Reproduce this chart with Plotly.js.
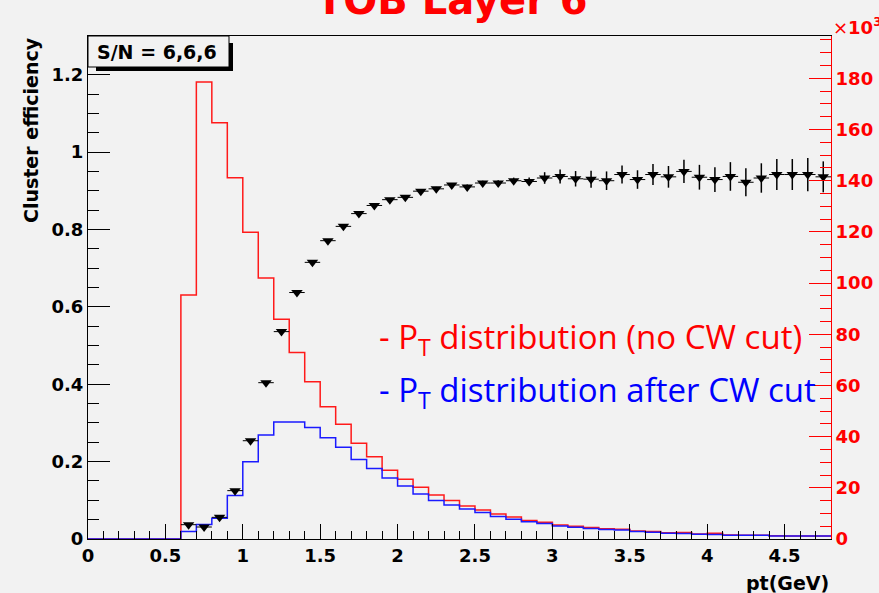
<!DOCTYPE html>
<html>
<head>
<meta charset="utf-8">
<script src="https://cdn.plot.ly/plotly-3.0.1.min.js"></script>
<style>
  html, body { margin: 0; padding: 0; background: #f2f2f2; }
  #chart { width: 879px; height: 593px; }
</style>
</head>
<body>
<div id="chart"></div>
<script>
// ---------------- data ----------------
// histogram bin low edges (GeV), bin width 0.1
const ptLow = [0.0,0.1,0.2,0.3,0.4,0.5,0.6,0.7,0.8,0.9,1.0,1.1,1.2,1.3,1.4,1.5,1.6,1.7,1.8,1.9,
               2.0,2.1,2.2,2.3,2.4,2.5,2.6,2.7,2.8,2.9,3.0,3.1,3.2,3.3,3.4,3.5,3.6,3.7,3.8,3.9,
               4.0,4.1,4.2,4.3,4.4,4.5,4.6,4.7];
const ptHigh = 4.8;

// P_T distribution (no CW cut), in units of 10^3 entries
const redCounts = [0,0,0,0,0,0,95.3,178.5,162.6,141.1,119.8,102.0,85.8,72.9,61.4,51.7,44.8,37.4,32.1,26.9,
                   23.3,20.2,17.2,15.0,12.9,11.3,9.8,8.6,7.2,6.5,5.5,5.0,4.5,4.0,3.8,3.1,2.9,2.4,2.5,2.0,
                   2.2,1.6,1.5,1.5,1.3,1.2,1.2,1.2];

// P_T distribution after CW cut, in units of 10^3 entries
const blueCounts = [0,0,0,0,0,0,2.9,5.7,8.1,17.0,30.2,40.6,45.7,45.7,43.6,39.6,35.8,31.1,27.5,23.8,
                    20.7,17.6,15.0,13.3,11.7,10.4,8.8,7.7,6.7,6.1,5.1,4.6,4.1,3.7,3.5,2.9,2.6,2.2,2.1,1.9,
                    1.8,1.5,1.5,1.5,1.2,1.2,1.2,1.2];

// Cluster efficiency points (bin centres)
const effX = [0.65,0.75,0.85,0.95,1.05,1.15,1.25,1.35,1.45,1.55,1.65,1.75,1.85,1.95,2.05,2.15,2.25,2.35,2.45,2.55,
              2.65,2.75,2.85,2.95,3.05,3.15,3.25,3.35,3.45,3.55,3.65,3.75,3.85,3.95,4.05,4.15,4.25,4.35,4.45,4.55,
              4.65,4.75];
const effY = [0.037,0.031,0.056,0.125,0.254,0.404,0.536,0.637,0.715,0.771,0.808,0.841,0.862,0.877,0.883,0.899,0.905,0.915,0.910,0.920,
              0.920,0.926,0.924,0.933,0.937,0.931,0.930,0.926,0.942,0.929,0.942,0.936,0.950,0.935,0.929,0.937,0.922,0.933,0.942,0.942,
              0.942,0.936];
const effErr = [0.003,0.003,0.003,0.003,0.003,0.003,0.003,0.003,0.003,0.003,0.003,0.003,0.003,0.003,0.004,0.005,0.005,0.005,0.006,0.006,
                0.007,0.008,0.010,0.015,0.018,0.020,0.022,0.024,0.023,0.024,0.027,0.028,0.030,0.032,0.032,0.037,0.036,0.038,0.040,0.040,
                0.043,0.040];
const effHalfWidth = 0.05;

const titleText = "TOB Layer 6";
const boxText = "S/N = 6,6,6";
const xTitle = "pt(GeV)";
const yTitle = "Cluster efficiency";
const redLabel = "- P<sub>T</sub> distribution (no CW cut)";
const blueLabel = "- P<sub>T</sub> distribution after CW cut";

// ---------------- build ----------------
function stepX(low, high) { return low.concat([high]); }
function stepY(c) { return c.concat([c[c.length - 1]]); }

const BG = '#f2f2f2';
const TF = 'DejaVu Sans';

const traces = [
  {
    type: 'scatter', mode: 'lines', x: stepX(ptLow, ptHigh), y: stepY(redCounts),
    line: { shape: 'hv', color: '#ff1a1a', width: 1.5 }, yaxis: 'y', hoverinfo: 'skip'
  },
  {
    type: 'scatter', mode: 'lines', x: stepX(ptLow, ptHigh), y: stepY(blueCounts),
    line: { shape: 'hv', color: '#1a1aff', width: 1.5 }, yaxis: 'y', hoverinfo: 'skip'
  },
  {
    type: 'scatter', mode: 'markers', x: effX, y: effY, yaxis: 'y2',
    marker: { symbol: 'triangle-down', size: 10, color: '#000000' },
    error_y: { type: 'data', array: effErr, visible: true, color: '#000', thickness: 1.5, width: 0 },
    error_x: { type: 'constant', value: effHalfWidth, visible: true, color: '#000', thickness: 1, width: 0 }
  }
];

// pixel helpers for paper coordinates (plot area: x 88..831, y 36..539)
const L = 88, R = 831, T = 36, B = 539;
const px = v => (v - L) / (R - L);
const py = v => (B - v) / (B - T);

const layout = {
  width: 879, height: 593,
  paper_bgcolor: BG, plot_bgcolor: BG,
  margin: { l: L, r: 879 - R, t: T, b: 593 - B, pad: 0, autoexpand: false },
  showlegend: false,
  font: { family: TF, size: 18, color: '#000' },
  xaxis: {
    range: [0, 4.8], dtick: 0.5, tick0: 0,
    showgrid: false, zeroline: false,
    showline: true, linecolor: '#000', linewidth: 1, mirror: true,
    ticks: 'inside', ticklen: 15, tickwidth: 1, tickcolor: '#000',
    minor: { dtick: 0.1, ticks: 'inside', ticklen: 8, tickwidth: 1, tickcolor: '#000', showgrid: false },
    tickfont: { family: TF, size: 18, color: '#000', weight: 'bold' }
  },
  yaxis: {
    side: 'right', range: [0, 196.5], dtick: 20, tick0: 0,
    showgrid: false, zeroline: false,
    showline: true, linecolor: '#ff0000', linewidth: 1,
    ticks: 'inside', ticklen: 22, tickwidth: 1, tickcolor: '#ff0000',
    minor: { dtick: 5, ticks: 'inside', ticklen: 11, tickwidth: 1, tickcolor: '#ff0000', showgrid: false },
    tickfont: { family: TF, size: 18, color: '#ff0000', weight: 'bold' }
  },
  yaxis2: {
    side: 'left', overlaying: 'y', range: [0, 1.3], dtick: 0.2, tick0: 0,
    showgrid: false, zeroline: false,
    showline: true, linecolor: '#000', linewidth: 1,
    ticks: 'inside', ticklen: 22, tickwidth: 1, tickcolor: '#000',
    minor: { dtick: 0.05, ticks: 'inside', ticklen: 11, tickwidth: 1, tickcolor: '#000', showgrid: false },
    tickfont: { family: TF, size: 18, color: '#000', weight: 'bold' }
  },
  shapes: [
    { type: 'rect', xref: 'paper', yref: 'paper', x0: px(96), x1: px(233), y0: py(71), y1: py(43),
      fillcolor: '#000', line: { width: 0 }, layer: 'above' },
    { type: 'rect', xref: 'paper', yref: 'paper', x0: px(88), x1: px(229), y0: py(67), y1: py(36),
      fillcolor: BG, line: { width: 1, color: '#000' }, layer: 'above' }
  ],
  annotations: [
    { xref: 'paper', yref: 'paper', x: px(452), y: py(0), xanchor: 'center', yanchor: 'middle',
      text: titleText, showarrow: false, font: { family: TF, size: 40, color: '#ff0000', weight: 'bold' } },
    { xref: 'paper', yref: 'paper', x: px(95), y: py(52), xanchor: 'left', yanchor: 'middle',
      text: boxText, showarrow: false, font: { family: TF, size: 19, color: '#000', weight: 'bold' } },
    { xref: 'paper', yref: 'paper', x: px(831), y: py(26), xanchor: 'left', yanchor: 'middle',
      text: '×<b>10<sup>3</sup></b>', showarrow: false, font: { family: TF, size: 18, color: '#ff0000' } },
    { xref: 'paper', yref: 'paper', x: px(831), y: py(583), xanchor: 'right', yanchor: 'middle',
      text: xTitle, showarrow: false, font: { family: TF, size: 19, color: '#000', weight: 'bold' } },
    { xref: 'paper', yref: 'paper', x: px(31), y: py(130), xanchor: 'center', yanchor: 'middle', textangle: -90,
      text: yTitle, showarrow: false, font: { family: TF, size: 19, color: '#000', weight: 'bold' } },
    { xref: 'paper', yref: 'paper', x: px(377), y: py(338), xanchor: 'left', yanchor: 'middle',
      text: redLabel, showarrow: false, font: { family: 'Open Sans', size: 33, color: '#ff0000' } },
    { xref: 'paper', yref: 'paper', x: px(377), y: py(391), xanchor: 'left', yanchor: 'middle',
      text: blueLabel, showarrow: false, font: { family: 'Open Sans', size: 33, color: '#0000ff' } }
  ]
};

Plotly.newPlot('chart', traces, layout, { displayModeBar: false, staticPlot: true });
</script>
</body>
</html>
